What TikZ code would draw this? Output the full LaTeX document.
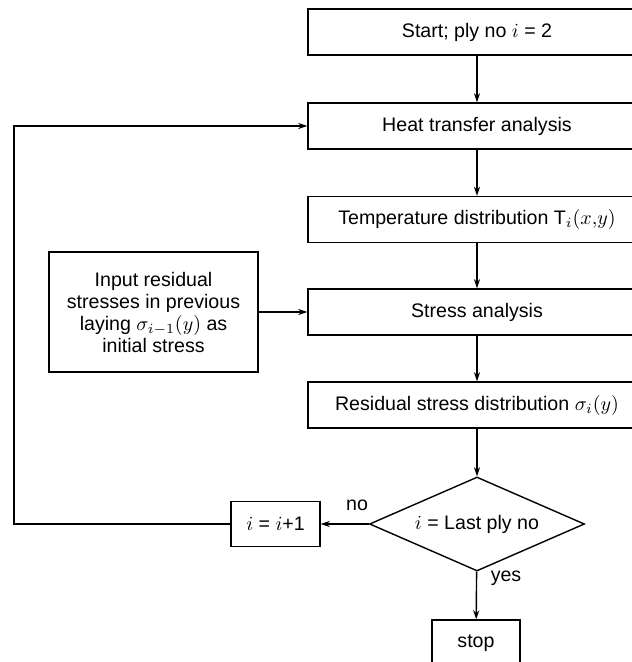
\documentclass[tikz,border=0pt]{standalone}
\usepackage{fontspec}
\setmainfont{Liberation Sans}
\usetikzlibrary{shapes.geometric}
\usetikzlibrary{arrows.meta}

\tikzset{
  blk/.style={draw, line width=0.7pt, inner sep=0pt, minimum height=23pt, align=center, font=\fontsize{9.8}{11}\selectfont},
  wide/.style={blk, minimum width=169pt},
  arr/.style={line width=0.7pt, -{Stealth[length=4.5pt, width=3pt]}},
  lbl/.style={font=\fontsize{9.8}{11}\selectfont, inner sep=0pt},
}

\begin{document}
\begin{tikzpicture}[x=0.5pt, y=-0.5pt]
    \useasboundingbox (0,0) rectangle (631,662);
    \node[wide] (start) at (477,32) {Start; ply no $i$ = 2};
    \node[wide] (heat) at (477,126) {Heat transfer analysis};
    \node[wide] (temp) at (477,219.5) {Temperature distribution T$_i(x{,}y)$};
    \node[wide] (stress) at (477,312) {Stress analysis};
    \node[wide] (resid) at (477,405) {Residual stress distribution $\sigma_i(y)$};
    \node[blk, diamond, aspect=2.29, minimum width=107.5pt, minimum height=47pt] (check) at (477,524) {$i$ = Last ply no};
    \node[blk, minimum width=44.5pt, minimum height=22.5pt] (incr) at (275.5,524) {$i$ = $i$+1};
    \node[blk, minimum width=44pt] (stopbox) at (476,643) {stop};
    \node[blk, minimum width=104.5pt, minimum height=60pt] (input) at (153.5,312) {Input residual\\stresses in previous\\laying $\sigma_{i-1}(y)$ as\\initial stress};
    \node[lbl] (lblno) at (357,505) {no};
    \node[lbl] (lblyes) at (506,578) {yes};
    \coordinate (bend) at (14,524);
    % main column
    \draw[arr] (start) -- (heat);
    \draw[arr] (heat) -- (temp);
    \draw[arr] (temp) -- (stress);
    \draw[arr] (stress) -- (resid);
    \draw[arr] (resid) -- (check);
    \draw[arr] (check) -- (stopbox);
    % side paths
    \draw[arr] (input) -- (stress);
    \draw[arr] (check) -- (incr);
    \draw[arr] (incr.west) -- (bend) |- (heat.west);
\end{tikzpicture}
\end{document}
